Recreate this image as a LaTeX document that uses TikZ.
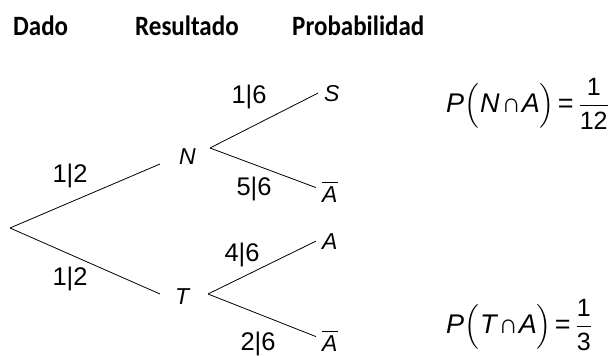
\documentclass[tikz,border=0pt]{standalone}
\usepackage{amsmath}
\usepackage{graphicx}
\usepackage{fontspec}
\setmainfont{Liberation Sans}
\newfontfamily\headfont{Carlito}
\newcommand{\fr}[2]{$\dfrac{\text{\fontsize{25}{29}\selectfont #1}}{\text{\fontsize{25}{29}\selectfont #2}}$}
\begin{document}
\begin{tikzpicture}[x=1pt,y=-1pt,
  head/.style={anchor=base west,inner sep=0pt,font=\headfont\bfseries\fontsize{25}{29}\selectfont},
  lbl/.style={inner sep=0pt,font=\fontsize{25.5}{29}\selectfont},
  ev/.style={inner sep=2pt,anchor=base west,font=\itshape\fontsize{23}{27}\selectfont},
  leaf/.style={ev,inner xsep=8pt},
  eq/.style={anchor=base west,inner sep=0pt,font=\fontsize{27}{31}\selectfont},
  br/.style={line width=0.8pt,black}]
\useasboundingbox (0,0) rectangle (611,356);
% headers
\node[head] (h1) at (13,35) {\scalebox{1}[1.12]{Dado}};
\node[head] (h2) at (135,35) {\scalebox{1}[1.12]{Resultado}};
\node[head] (h3) at (292,35) {\scalebox{1}[1.12]{Probabilidad}};
% tree points
\coordinate (root) at (10,228);
\coordinate (Nl) at (160,164);
\coordinate (Nr) at (210,148);
\coordinate (Tl) at (160,294);
\coordinate (Tr) at (208,294);
\node[ev] (N) at (177,164) {N};
\node[ev] (T) at (173,304) {T};
\node[leaf] (S) at (316,101) {S};
\node[leaf] (A1) at (314,202) {$\overline{\text{\itshape A}}$};
\node[leaf] (A2) at (314,249) {A};
\node[leaf] (A3) at (314,351) {$\overline{\text{\itshape A}}$};
\draw[br] (root) -- (Nl);
\draw[br] (root) -- (Tl);
\draw[br] (Nr) -- ([xshift=2pt]S.west);
\draw[br] (Nr) -- ([xshift=2pt,yshift=4pt]A1.west);
\draw[br] (Tr) -- ([xshift=2pt]A2.west);
\draw[br] (Tr) -- ([xshift=2pt,yshift=4pt]A3.west);
% edge labels
\node[lbl] (p1) at (70,176) {1|2};
\node[lbl] (p2) at (70,279) {1|2};
\node[lbl] (p3) at (249,97) {1|6};
\node[lbl] (p4) at (254,189) {5|6};
\node[lbl] (p5) at (242,255) {4|6};
\node[lbl] (p6) at (258,344) {2|6};
% probabilities
\node[eq] (e1) at (446,112) {{\itshape P}$\Bigl($\kern1pt{\itshape N}\kern2pt∩\kern1pt{\itshape A}$\Bigr)$\kern3pt=\kern5pt\fr{1}{12}};
\node[eq] (e2) at (446,333) {{\itshape P}$\Bigl($\kern1pt{\itshape T}\kern2pt∩\kern1pt{\itshape A}$\Bigr)$\kern3pt=\kern5pt\fr{1}{3}};
\end{tikzpicture}
\end{document}
